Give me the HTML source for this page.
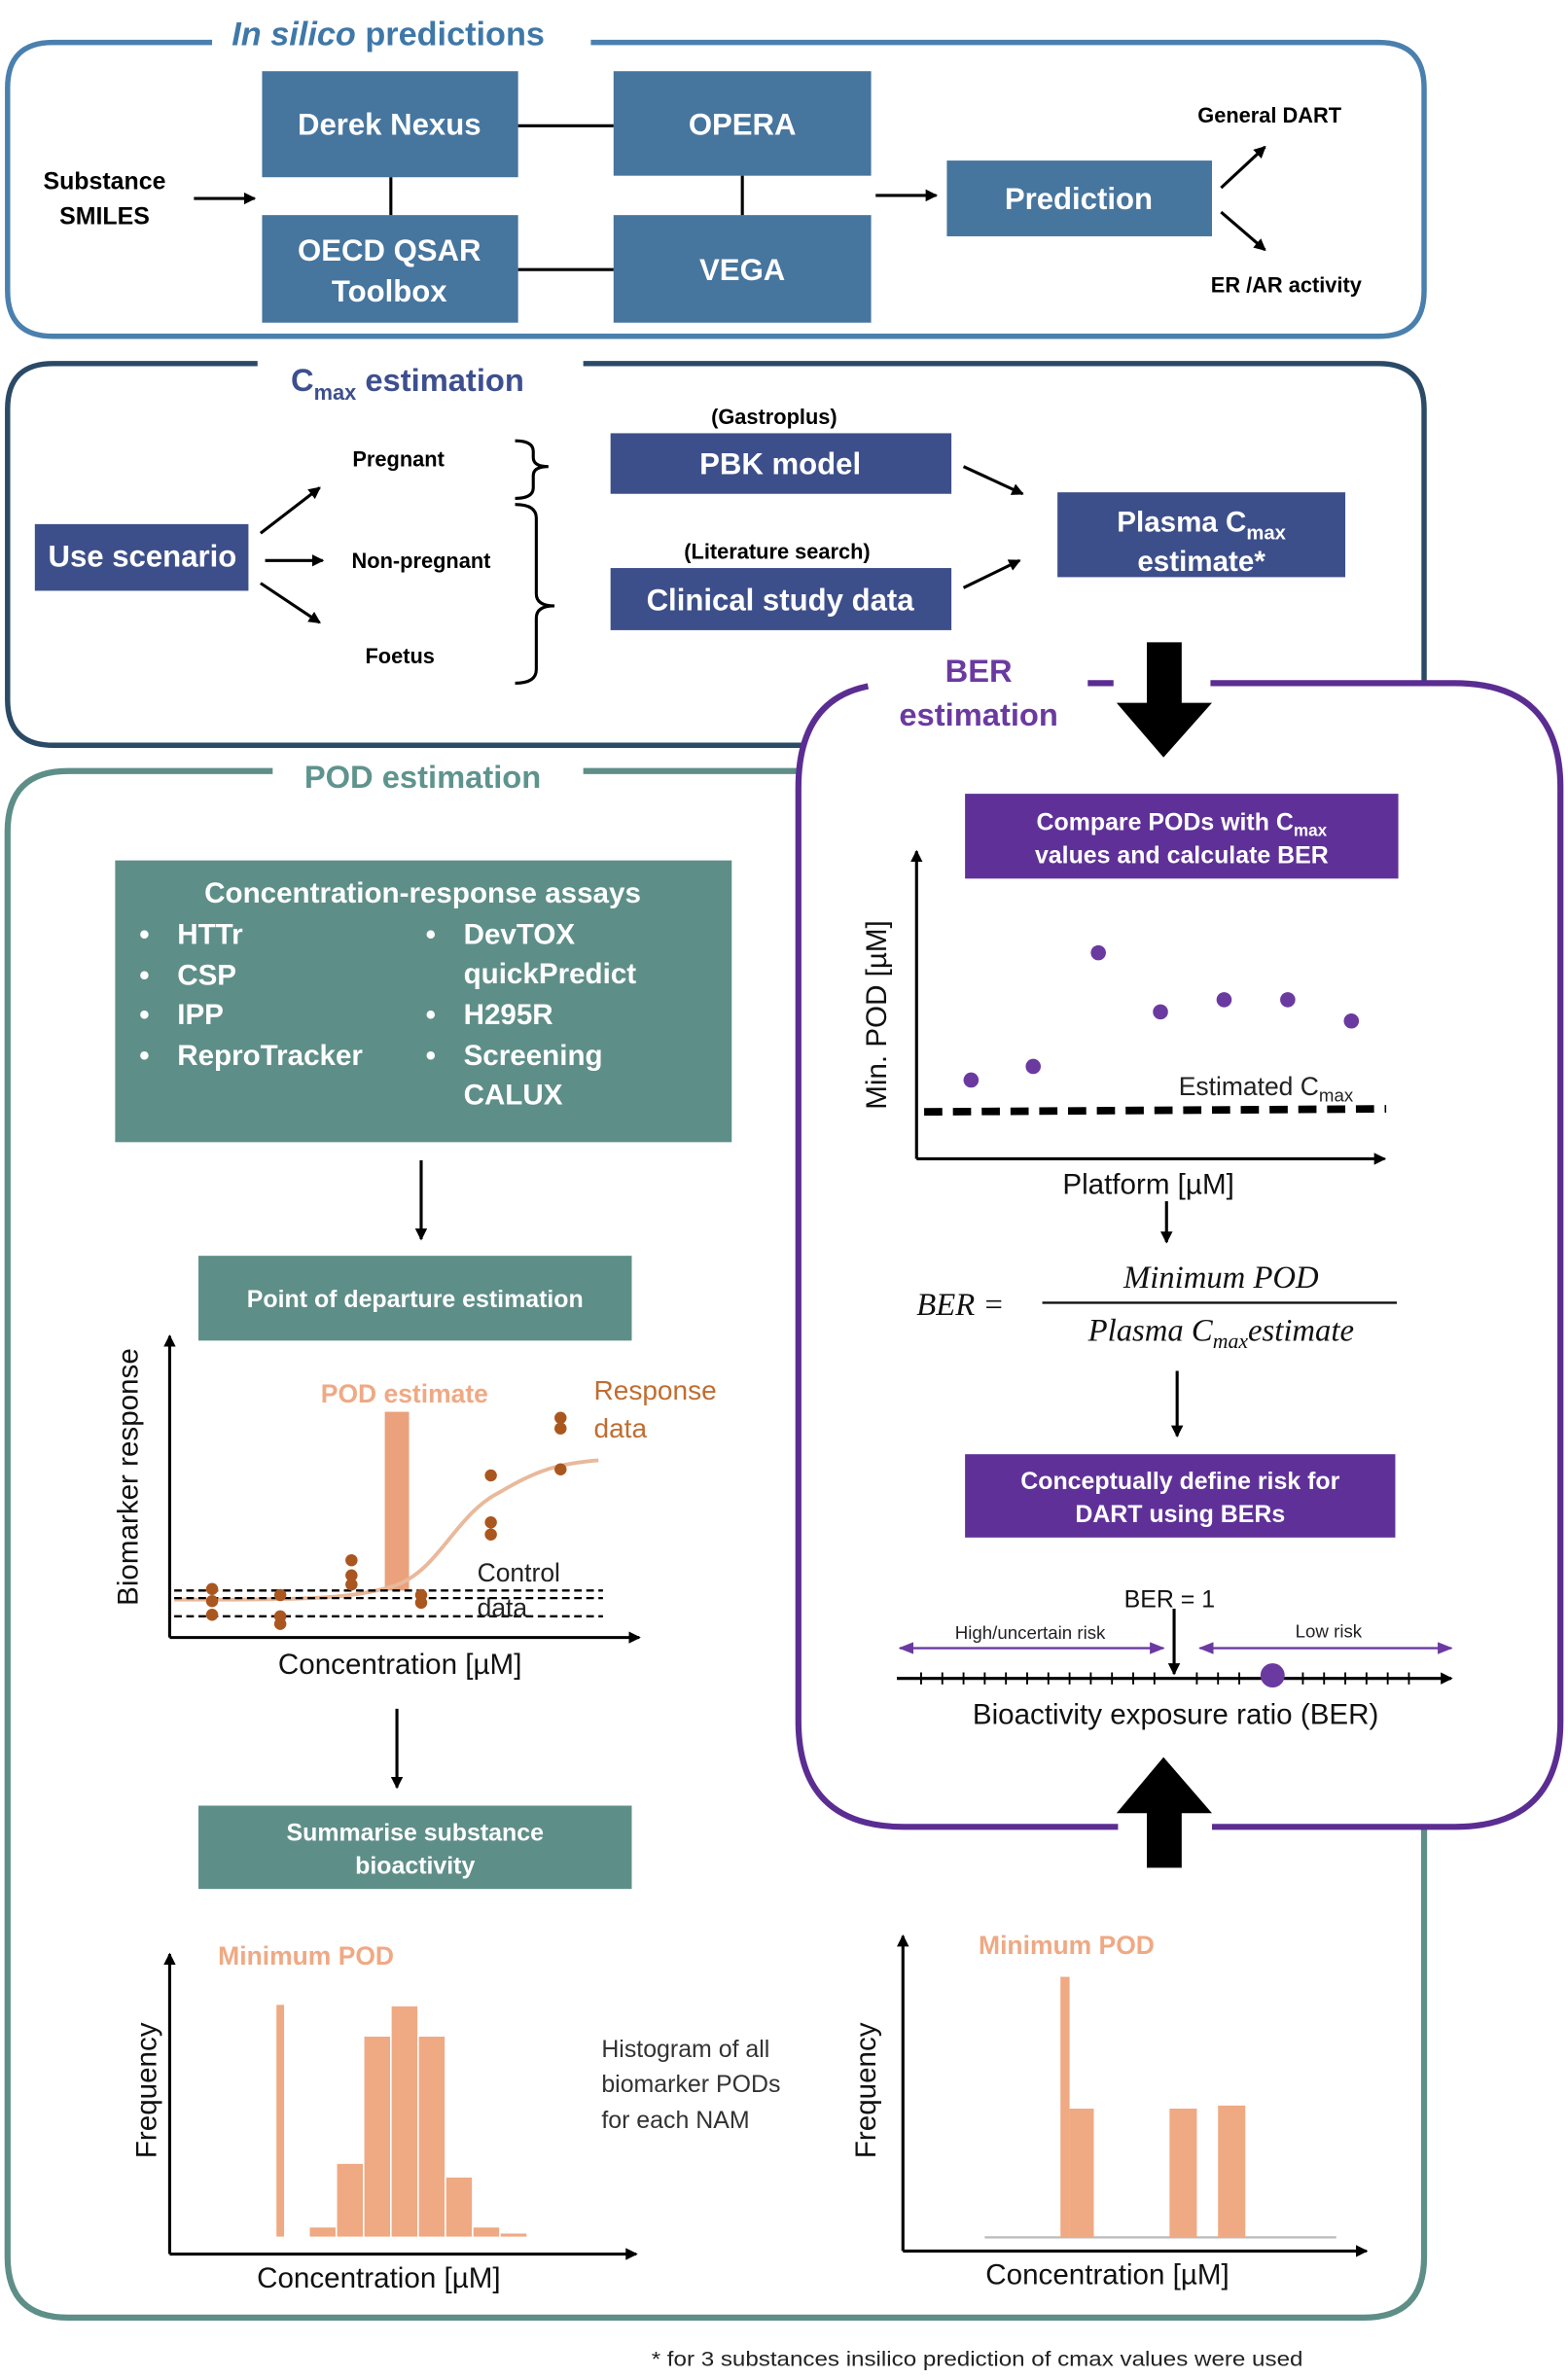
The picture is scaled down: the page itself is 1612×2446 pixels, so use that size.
<!DOCTYPE html>
<html><head><meta charset="utf-8"><style>
html,body{margin:0;padding:0;background:#fff}
svg{display:block}
text{font-family:"Liberation Sans",sans-serif}
.b{font-weight:bold}
.w{fill:#fff;font-weight:bold}
</style></head><body>
<svg width="1612" height="2446" viewBox="0 0 1035 1570.5" preserveAspectRatio="none" xmlns="http://www.w3.org/2000/svg">
<defs>
<marker id="ah" markerWidth="8" markerHeight="8" refX="7" refY="4" orient="auto" markerUnits="userSpaceOnUse"><path d="M0,0 L8,4 L0,8 Z" fill="#000"/></marker>
<marker id="ap" markerWidth="10" markerHeight="8" refX="9" refY="4" orient="auto-start-reverse" markerUnits="userSpaceOnUse"><path d="M0,0 L10,4 L0,8 Z" fill="#6b3aa0"/></marker>
</defs>

<path d="M140,28 H35 Q5,28 5,58 V192 Q5,222 35,222 H910 Q940,222 940,192 V58 Q940,28 910,28 H390" fill="none" stroke="#4a80ae" stroke-width="3.5"/>
<text x="153" y="30" font-size="22" fill="#3f78a8" class="b"><tspan font-style="italic">In silico</tspan> predictions</text>
<g fill="#46759e">
<rect x="173" y="47" width="169" height="70"/>
<rect x="405" y="47" width="170" height="69"/>
<rect x="173" y="142" width="169" height="71"/>
<rect x="405" y="142" width="170" height="71"/>
<rect x="625" y="106" width="175" height="50"/>
</g>
<g stroke="#000" stroke-width="2">
<line x1="342" y1="83" x2="405" y2="83"/><line x1="342" y1="178" x2="405" y2="178"/>
<line x1="258" y1="117" x2="258" y2="142"/><line x1="490" y1="116" x2="490" y2="142"/>
<line x1="128" y1="131" x2="168" y2="131" marker-end="url(#ah)"/>
<line x1="578" y1="129" x2="618" y2="129" marker-end="url(#ah)"/>
<line x1="806" y1="124" x2="835" y2="97" marker-end="url(#ah)"/>
<line x1="806" y1="140" x2="835" y2="165" marker-end="url(#ah)"/>
</g>
<g font-size="20" text-anchor="middle" class="w">
<text x="257" y="89" class="w">Derek Nexus</text>
<text x="490" y="89" class="w">OPERA</text>
<text x="257" y="172" class="w">OECD QSAR</text>
<text x="257" y="199" class="w">Toolbox</text>
<text x="490" y="185" class="w">VEGA</text>
<text x="712" y="138" class="w">Prediction</text>
</g>
<g font-size="16" text-anchor="middle" class="b">
<text x="69" y="125" class="b">Substance</text><text x="69" y="148" class="b">SMILES</text>
<text x="838" y="81" font-size="14" class="b">General DART</text>
<text x="849" y="193" font-size="14" class="b">ER /AR activity</text>
</g>

<path d="M170,240 H35 Q5,240 5,270 V462 Q5,492 35,492 H910 Q940,492 940,462 V270 Q940,240 910,240 H385" fill="none" stroke="#2a4a66" stroke-width="3.5"/>
<text x="192" y="258" font-size="21" fill="#3d4f8f" class="b">C<tspan font-size="14" dy="6">max</tspan><tspan dy="-6"> estimation</tspan></text>
<g fill="#3d4f8a">
<rect x="23" y="346" width="141" height="44"/>
<rect x="403" y="286" width="225" height="40"/>
<rect x="403" y="375" width="225" height="41"/>
<rect x="698" y="325" width="190" height="56"/>
</g>
<text x="94" y="374" font-size="20" text-anchor="middle" class="w">Use scenario</text>
<text x="515" y="313" font-size="20" text-anchor="middle" class="w">PBK model</text>
<text x="515" y="403" font-size="20" text-anchor="middle" class="w">Clinical study data</text>
<text x="793" y="351" font-size="19" text-anchor="middle" class="w">Plasma C<tspan font-size="13" dy="5">max</tspan></text>
<text x="793" y="377" font-size="19" text-anchor="middle" class="w">estimate*</text>
<g font-size="14" text-anchor="middle" class="b">
<text x="511" y="280" class="b">(Gastroplus)</text>
<text x="513" y="369" class="b">(Literature search)</text>
<text x="263" y="308" class="b">Pregnant</text>
<text x="278" y="375" class="b">Non-pregnant</text>
<text x="264" y="438" class="b">Foetus</text>
</g>
<g stroke="#000" stroke-width="2" fill="none">
<line x1="172" y1="352" x2="211" y2="322" marker-end="url(#ah)"/>
<line x1="175" y1="370" x2="213" y2="370" marker-end="url(#ah)"/>
<line x1="172" y1="385" x2="211" y2="411" marker-end="url(#ah)"/>
<line x1="636" y1="308" x2="675" y2="326" marker-end="url(#ah)"/>
<line x1="636" y1="388" x2="673" y2="370" marker-end="url(#ah)"/>
<path d="M340,291 Q352,291 352,298 V302 Q352,308 362,308 Q352,308 352,314 V322 Q352,329 340,329"/>
<path d="M340,333 Q354,333 354,342 V392 Q354,400 366,400 Q354,400 354,408 V442 Q354,451 340,451"/>
</g>

<path d="M180,509 H45 Q5,509 5,549 V1490 Q5,1530 45,1530 H900 Q940,1530 940,1490 V549 Q940,509 900,509 H385" fill="none" stroke="#5e8e88" stroke-width="4"/>
<text x="279" y="520" font-size="21" fill="#5e948d" text-anchor="middle" class="b">POD estimation</text>

<path d="M718,451 H595 Q527,451 527,520 V1136 Q527,1206 597,1206 H960 Q1030,1206 1030,1136 V520 Q1030,451 960,451 H740" fill="#fff" stroke="none"/>
<path d="M573,453 Q527,462 527,520 V1136 Q527,1206 597,1206 H738 M800,1206 H960 Q1030,1206 1030,1136 V520 Q1030,451 960,451 H799 M718,451 H735" fill="none" stroke="#5b2d92" stroke-width="4"/>
<text x="646" y="450" font-size="21" fill="#6b3aa0" text-anchor="middle" class="b">BER</text>
<text x="646" y="479" font-size="21" fill="#6b3aa0" text-anchor="middle" class="b">estimation</text>
<rect x="757" y="424" width="23" height="42" fill="#000"/>
<polygon points="737,464 800,464 768,500" fill="#000"/>
<rect x="757" y="1195" width="23" height="38" fill="#000"/>
<polygon points="737,1197 800,1197 768,1160" fill="#000"/>

<g fill="#5f3198">
<rect x="637" y="524" width="286" height="56"/>
<rect x="637" y="960" width="284" height="55"/>
</g>
<text x="780" y="548" font-size="16" text-anchor="middle" class="w">Compare PODs with C<tspan font-size="11" dy="4">max</tspan></text>
<text x="780" y="570" font-size="16" text-anchor="middle" class="w">values and calculate BER</text>
<text x="779" y="983" font-size="16" text-anchor="middle" class="w">Conceptually define risk for</text>
<text x="779" y="1005" font-size="16" text-anchor="middle" class="w">DART using BERs</text>
<g stroke="#000" stroke-width="2" fill="none">
<line x1="605" y1="765" x2="605" y2="562" marker-end="url(#ah)"/>
<line x1="605" y1="765" x2="914" y2="765" marker-end="url(#ah)"/>
<line x1="770" y1="793" x2="770" y2="820" marker-end="url(#ah)"/>
<line x1="777" y1="905" x2="777" y2="948" marker-end="url(#ah)"/>
<line x1="775" y1="1062" x2="775" y2="1105" marker-end="url(#ah)"/>
<line x1="592" y1="1108" x2="958" y2="1108" marker-end="url(#ah)"/>
</g>
<line x1="610" y1="734" x2="915" y2="732" stroke="#000" stroke-width="5" stroke-dasharray="12,7"/>
<g fill="#6b3aa0">
<circle cx="641" cy="713" r="5"/><circle cx="682" cy="704" r="5"/><circle cx="725" cy="629" r="5"/><circle cx="766" cy="668" r="5"/><circle cx="808" cy="660" r="5"/><circle cx="850" cy="660" r="5"/><circle cx="892" cy="674" r="5"/>
<circle cx="840" cy="1106" r="8"/>
</g>
<text x="778" y="723" font-size="17" fill="#222">Estimated C<tspan font-size="12" dy="4">max</tspan></text>
<text transform="translate(585,670) rotate(-90)" font-size="19" text-anchor="middle" fill="#111">Min. POD [µM]</text>
<text x="758" y="788" font-size="19" text-anchor="middle" fill="#111">Platform [µM]</text>
<g font-style="italic" font-size="21" fill="#111">
<text x="605" y="868" style="font-family:'Liberation Serif',serif">BER =</text>
<text x="806" y="850" text-anchor="middle" style="font-family:'Liberation Serif',serif">Minimum POD</text>
<text x="806" y="885" text-anchor="middle" style="font-family:'Liberation Serif',serif">Plasma C<tspan font-size="14" dy="5">max</tspan><tspan dy="-5">estimate</tspan></text>
</g>
<line x1="688" y1="860" x2="922" y2="860" stroke="#111" stroke-width="1.5"/>
<text x="772" y="1061" font-size="16" text-anchor="middle" fill="#111">BER = 1</text>
<line x1="594" y1="1088" x2="768" y2="1088" stroke="#6b3aa0" stroke-width="1.5" marker-start="url(#ap)" marker-end="url(#ap)"/>
<line x1="792" y1="1088" x2="958" y2="1088" stroke="#6b3aa0" stroke-width="1.5" marker-start="url(#ap)" marker-end="url(#ap)"/>
<text x="680" y="1082" font-size="12" text-anchor="middle" fill="#222">High/uncertain risk</text>
<text x="877" y="1081" font-size="12" text-anchor="middle" fill="#222">Low risk</text>
<path d="M608,1104v8M622,1104v8M636,1104v8M650,1104v8M664,1104v8M678,1104v8M692,1104v8M706,1104v8M720,1104v8M734,1104v8M748,1104v8M762,1104v8M790,1104v8M804,1104v8M818,1104v8M860,1104v8M874,1104v8M888,1104v8M902,1104v8M916,1104v8M930,1104v8" stroke="#000" stroke-width="1.2"/>
<text x="776" y="1138" font-size="19" text-anchor="middle" fill="#111">Bioactivity exposure ratio (BER)</text>

<g fill="#5e8e88">
<rect x="76" y="568" width="407" height="186"/>
<rect x="131" y="829" width="286" height="56"/>
<rect x="131" y="1192" width="286" height="55"/>
</g>
<g font-size="19" class="w">
<text x="279" y="596" text-anchor="middle" class="w">Concentration-response assays</text>
<text x="92" y="623" class="w">•</text><text x="117" y="623" class="w">HTTr</text>
<text x="92" y="650" class="w">•</text><text x="117" y="650" class="w">CSP</text>
<text x="92" y="676" class="w">•</text><text x="117" y="676" class="w">IPP</text>
<text x="92" y="703" class="w">•</text><text x="117" y="703" class="w">ReproTracker</text>
<text x="281" y="623" class="w">•</text><text x="306" y="623" class="w">DevTOX</text>
<text x="306" y="649" class="w">quickPredict</text>
<text x="281" y="676" class="w">•</text><text x="306" y="676" class="w">H295R</text>
<text x="281" y="703" class="w">•</text><text x="306" y="703" class="w">Screening</text>
<text x="306" y="729" class="w">CALUX</text>
</g>
<text x="274" y="863" font-size="16" text-anchor="middle" class="w">Point of departure estimation</text>
<text x="274" y="1215" font-size="16" text-anchor="middle" class="w">Summarise substance</text>
<text x="274" y="1237" font-size="16" text-anchor="middle" class="w">bioactivity</text>
<g stroke="#000" stroke-width="2" fill="none">
<line x1="278" y1="766" x2="278" y2="818" marker-end="url(#ah)"/>
<line x1="262" y1="1128" x2="262" y2="1180" marker-end="url(#ah)"/>
<line x1="112" y1="1081" x2="112" y2="882" marker-end="url(#ah)"/>
<line x1="112" y1="1081" x2="422" y2="1081" marker-end="url(#ah)"/>
<line x1="112" y1="1488" x2="112" y2="1290" marker-end="url(#ah)"/>
<line x1="112" y1="1488" x2="420" y2="1488" marker-end="url(#ah)"/>
<line x1="596" y1="1486" x2="596" y2="1278" marker-end="url(#ah)"/>
<line x1="596" y1="1486" x2="902" y2="1486" marker-end="url(#ah)"/>
</g>
<text transform="translate(91,975) rotate(-90)" font-size="19" text-anchor="middle" fill="#111">Biomarker response</text>
<text x="264" y="1105" font-size="19" text-anchor="middle" fill="#111">Concentration [µM]</text>
<rect x="254" y="932" width="16" height="118" fill="#eaa17c"/>
<text x="267" y="926" font-size="17" text-anchor="middle" fill="#efa984" class="b">POD estimate</text>
<text x="392" y="924" font-size="18" fill="#c06d30">Response</text>
<text x="392" y="949" font-size="18" fill="#c06d30">data</text>
<path d="M115,1056 C200,1056 230,1056 260,1047 C290,1037 300,1000 330,985 C355,970 370,966 395,964" fill="none" stroke="#e8b99a" stroke-width="2.5"/>
<g stroke="#000" stroke-width="1.5" stroke-dasharray="5,3">
<line x1="115" y1="1050" x2="398" y2="1050"/><line x1="115" y1="1055" x2="398" y2="1055"/><line x1="115" y1="1067" x2="398" y2="1067"/>
</g>
<g fill="#aa561f">
<circle cx="140" cy="1049" r="4"/><circle cx="140" cy="1057" r="4"/><circle cx="140" cy="1066" r="4"/>
<circle cx="185" cy="1053" r="4"/><circle cx="185" cy="1067" r="4"/><circle cx="185" cy="1072" r="4"/>
<circle cx="232" cy="1030" r="4"/><circle cx="232" cy="1040" r="4"/><circle cx="232" cy="1046" r="4"/>
<circle cx="278" cy="1053" r="4"/><circle cx="278" cy="1058" r="4"/>
<circle cx="324" cy="974" r="4"/><circle cx="324" cy="1005" r="4"/><circle cx="324" cy="1013" r="4"/>
<circle cx="370" cy="936" r="4"/><circle cx="370" cy="943" r="4"/><circle cx="370" cy="970" r="4"/>
</g>
<text x="315" y="1044" font-size="17" fill="#222">Control</text>
<text x="315" y="1067" font-size="17" fill="#222">data</text>

<text transform="translate(103,1380) rotate(-90)" font-size="19" text-anchor="middle" fill="#111">Frequency</text>
<text x="250" y="1510" font-size="19" text-anchor="middle" fill="#111">Concentration [µM]</text>
<text x="202" y="1297" font-size="17" text-anchor="middle" fill="#efa984" class="b">Minimum POD</text>
<g fill="#efa983" stroke="#fff" stroke-width="1">
<rect x="182" y="1323" width="6" height="154"/>
<rect x="204" y="1470" width="18" height="7"/>
<rect x="222" y="1428" width="18" height="49"/>
<rect x="240" y="1344" width="18" height="133"/>
<rect x="258" y="1324" width="18" height="153"/>
<rect x="276" y="1344" width="18" height="133"/>
<rect x="294" y="1437" width="18" height="40"/>
<rect x="312" y="1470" width="18" height="7"/>
<rect x="330" y="1474" width="18" height="3"/>
</g>
<text x="397" y="1358" font-size="16" fill="#333">Histogram of all</text>
<text x="397" y="1381" font-size="16" fill="#333">biomarker PODs</text>
<text x="397" y="1405" font-size="16" fill="#333">for each NAM</text>
<text transform="translate(578,1380) rotate(-90)" font-size="19" text-anchor="middle" fill="#111">Frequency</text>
<text x="731" y="1508" font-size="19" text-anchor="middle" fill="#111">Concentration [µM]</text>
<text x="704" y="1290" font-size="17" text-anchor="middle" fill="#efa984" class="b">Minimum POD</text>
<line x1="650" y1="1477" x2="882" y2="1477" stroke="#bbb" stroke-width="1.5"/>
<g fill="#efa983">
<rect x="700" y="1305" width="6" height="172"/>
<rect x="706" y="1392" width="16" height="85"/>
<rect x="772" y="1392" width="18" height="85"/>
<rect x="804" y="1390" width="18" height="87"/>
</g>
<text x="430" y="1562" font-size="13.5" fill="#222" textLength="430" lengthAdjust="spacingAndGlyphs">* for 3 substances insilico prediction of cmax values were used</text>
</svg>
</body></html>
